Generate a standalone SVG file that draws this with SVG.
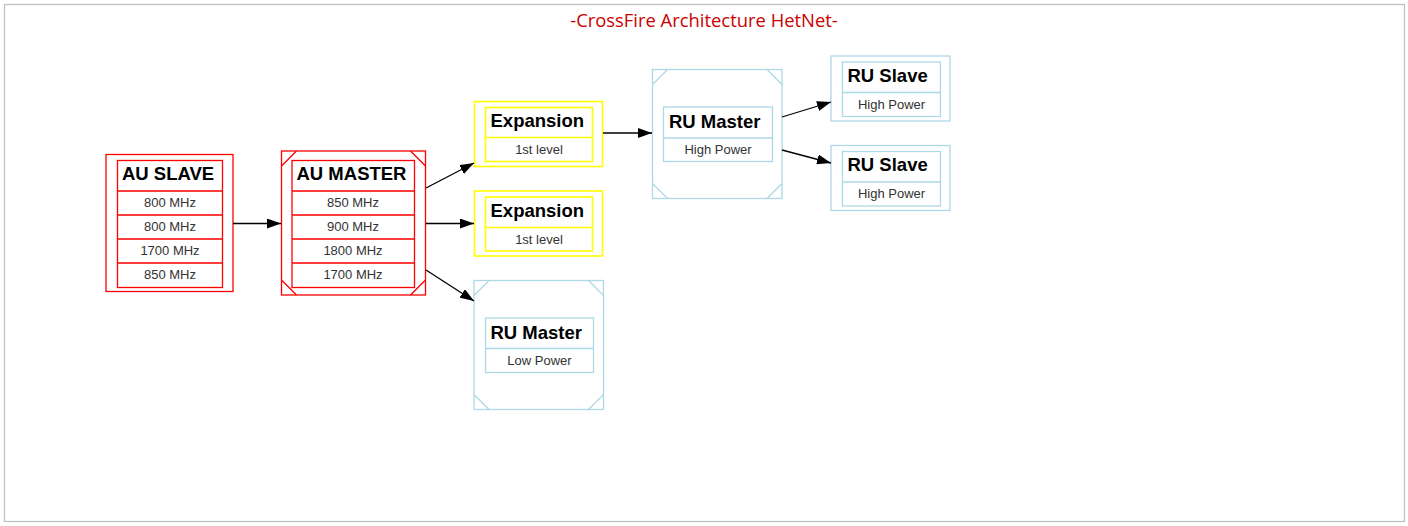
<svg xmlns="http://www.w3.org/2000/svg" width="1408" height="526" viewBox="0 0 1408 526">
<style>
.hd{font-family:"Liberation Sans",Arial,sans-serif;font-size:18.5px;font-weight:bold;fill:#000}
.rw{font-family:"Liberation Sans",Arial,sans-serif;font-size:13px;fill:#333;text-anchor:middle}
.red{fill:#fff;stroke:#f00;stroke-width:1.3}
.yel{fill:#fff;stroke:#ff0;stroke-width:1.6}
.blu{fill:#fff;stroke:#add8e6;stroke-width:1.3}
.redl{stroke:#f00;stroke-width:1.3;fill:none}
.blul{stroke:#add8e6;stroke-width:1.3;fill:none}
.yell{stroke:#ff0;stroke-width:1.6;fill:none}
.edge{stroke:#000;stroke-width:1.3;fill:none;marker-end:url(#ah)}
</style>
<defs>
<marker id="ah" viewBox="0 0 14 10" refX="14" refY="5" markerWidth="14" markerHeight="10" markerUnits="userSpaceOnUse" orient="auto"><path d="M0,0 L14,5 L0,10 z" fill="#000"/></marker>
</defs>
<rect x="4.5" y="4.5" width="1400" height="517" fill="#fff" stroke="#c0c0c0" stroke-width="1.3"/>
<text x="704" y="27" text-anchor="middle" font-family="Open Sans, Noto Sans, sans-serif" font-size="18.4" fill="#c00">-CrossFire Architecture HetNet-</text>

<g id="au-slave">
<rect class="red" x="106" y="154.5" width="127" height="137"/>
<rect class="red" x="117.5" y="160.5" width="105" height="127"/>
<path class="redl" d="M117.5 191H222.5M117.5 215H222.5M117.5 239H222.5M117.5 263H222.5"/>
<text class="hd" x="122" y="180">AU SLAVE</text>
<text class="rw" x="170" y="207">800 MHz</text>
<text class="rw" x="170" y="231">800 MHz</text>
<text class="rw" x="170" y="255">1700 MHz</text>
<text class="rw" x="170" y="279">850 MHz</text>
</g>

<g id="au-master">
<rect class="red" x="281.5" y="151" width="144" height="144"/>
<path class="redl" d="M281.5 166L296.5 151M410.5 151L425.5 166M281.5 280L296.5 295M410.5 295L425.5 280"/>
<rect class="red" x="292" y="160.5" width="122.5" height="127"/>
<path class="redl" d="M292 191H414.5M292 215H414.5M292 239H414.5M292 263H414.5"/>
<text class="hd" x="296.5" y="180">AU MASTER</text>
<text class="rw" x="353" y="207">850 MHz</text>
<text class="rw" x="353" y="231">900 MHz</text>
<text class="rw" x="353" y="255">1800 MHz</text>
<text class="rw" x="353" y="279">1700 MHz</text>
</g>

<g id="expansion-1">
<rect class="yel" x="474.5" y="101.5" width="128" height="65"/>
<rect class="yel" x="485.5" y="107.5" width="107" height="54"/>
<path class="yell" d="M485.5 137.5H592.5"/>
<text class="hd" x="490.5" y="127">Expansion</text>
<text class="rw" x="539" y="154">1st level</text>
</g>

<g id="expansion-2">
<rect class="yel" x="474.5" y="191" width="128" height="65"/>
<rect class="yel" x="485.5" y="197" width="107" height="54"/>
<path class="yell" d="M485.5 227.5H592.5"/>
<text class="hd" x="490.5" y="216.5">Expansion</text>
<text class="rw" x="539" y="243.5">1st level</text>
</g>

<g id="ru-master-low">
<rect class="blu" x="474" y="280.5" width="129.5" height="129"/>
<path class="blul" d="M474 295.5L489 280.5M588.5 280.5L603.5 295.5M474 394.5L489 409.5M588.5 409.5L603.5 394.5"/>
<rect class="blu" x="485.5" y="318" width="108" height="54.5"/>
<path class="blul" d="M485.5 348.5H593.5"/>
<text class="hd" x="490.5" y="338.5">RU Master</text>
<text class="rw" x="539.5" y="365">Low Power</text>
</g>

<g id="ru-master-high">
<rect class="blu" x="652.5" y="69.5" width="129.5" height="129"/>
<path class="blul" d="M652.5 84.5L667.5 69.5M767 69.5L782 84.5M652.5 183.5L667.5 198.5M767 198.5L782 183.5"/>
<rect class="blu" x="663.5" y="107" width="109" height="54.5"/>
<path class="blul" d="M663.5 138H772.5"/>
<text class="hd" x="669" y="127.5">RU Master</text>
<text class="rw" x="718" y="154">High Power</text>
</g>

<g id="ru-slave-1">
<rect class="blu" x="831" y="56" width="119" height="65"/>
<rect class="blu" x="842.5" y="62" width="98" height="54.5"/>
<path class="blul" d="M842.5 92.5H940.5"/>
<text class="hd" x="847.5" y="82">RU Slave</text>
<text class="rw" x="891.5" y="109">High Power</text>
</g>

<g id="ru-slave-2">
<rect class="blu" x="831" y="145.5" width="119" height="65"/>
<rect class="blu" x="842.5" y="151.5" width="98" height="54.5"/>
<path class="blul" d="M842.5 182H940.5"/>
<text class="hd" x="847.5" y="171">RU Slave</text>
<text class="rw" x="891.5" y="198">High Power</text>
</g>

<g id="connectors">
<path class="edge" d="M233 223.5H281"/>
<path class="edge" d="M426 188L474 163"/>
<path class="edge" d="M426 223.5H474"/>
<path class="edge" d="M426 270L474 301"/>
<path class="edge" d="M603 133H652"/>
<path class="edge" d="M782 117L831 102"/>
<path class="edge" d="M782 150L831 163"/>
</g>
</svg>
